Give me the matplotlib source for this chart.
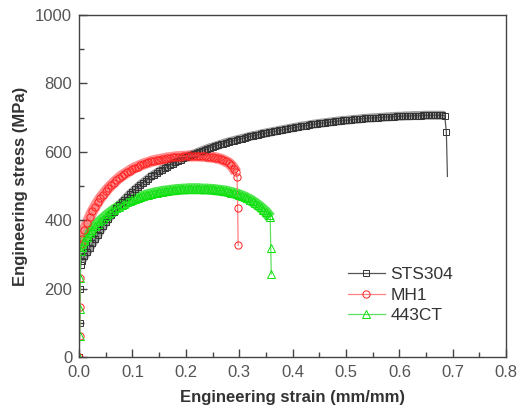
import matplotlib
matplotlib.use("Agg")
import matplotlib.pyplot as plt
from matplotlib.ticker import MultipleLocator, FormatStrFormatter

plt.rcParams['font.family'] = ['Liberation Sans', 'DejaVu Sans']

# ---- data ----
sts304_strain = [0.0, 0.001, 0.002, 0.003, 0.005, 0.01, 0.015, 0.02, 0.025, 0.03,
                 0.035, 0.04, 0.045, 0.05, 0.055, 0.06, 0.065, 0.07, 0.075, 0.08,
                 0.085, 0.09, 0.095, 0.10, 0.105, 0.11, 0.115, 0.12, 0.125, 0.13,
                 0.135, 0.14, 0.145, 0.15, 0.155, 0.16, 0.165, 0.17, 0.175, 0.18,
                 0.185, 0.19, 0.195, 0.20, 0.205, 0.21, 0.215, 0.22, 0.225, 0.23,
                 0.235, 0.24, 0.245, 0.25, 0.255, 0.26, 0.265, 0.27, 0.275, 0.28,
                 0.285, 0.29, 0.295, 0.30, 0.305, 0.31, 0.315, 0.32, 0.325, 0.33,
                 0.335, 0.34, 0.345, 0.35, 0.355, 0.36, 0.365, 0.37, 0.375, 0.38,
                 0.385, 0.39, 0.395, 0.40, 0.405, 0.41, 0.415, 0.42, 0.425, 0.43,
                 0.435, 0.44, 0.445, 0.45, 0.455, 0.46, 0.465, 0.47, 0.475, 0.48,
                 0.485, 0.49, 0.495, 0.50, 0.505, 0.51, 0.515, 0.52, 0.525, 0.53,
                 0.535, 0.54, 0.545, 0.55, 0.555, 0.56, 0.565, 0.57, 0.575, 0.58,
                 0.585, 0.59, 0.595, 0.60, 0.605, 0.61, 0.615, 0.62, 0.625, 0.63,
                 0.635, 0.64, 0.645, 0.65, 0.655, 0.66, 0.665, 0.67, 0.675, 0.68,
                 0.685, 0.688, 0.690]
sts304_stress = [0, 100, 200, 270, 282, 295, 307, 320, 332, 345,
                 357, 370, 383, 395, 405, 415, 425, 435, 444, 452,
                 460, 468, 476, 483, 490, 497, 504, 510, 516, 522,
                 528, 533, 538, 543, 548, 552, 557, 561, 565, 569,
                 573, 577, 581, 584, 588, 591, 594, 597, 600, 603,
                 606, 609, 612, 614, 617, 619, 622, 624, 627, 629,
                 631, 633, 635, 637, 639, 641, 643, 645, 647, 648,
                 650, 652, 654, 655, 657, 658, 660, 661, 663, 664,
                 666, 667, 669, 670, 672, 673, 675, 676, 677, 678,
                 680, 681, 682, 683, 684, 685, 686, 687, 688, 689,
                 690, 691, 692, 692, 693, 694, 695, 695, 696, 697,
                 698, 698, 699, 699, 700, 700, 701, 701, 702, 702,
                 703, 703, 704, 704, 704, 705, 705, 705, 706, 706,
                 706, 706, 707, 707, 707, 707, 707, 707, 707, 707,
                 706, 657, 528]

mh1_strain = [0.0, 0.001, 0.0015, 0.002, 0.003, 0.005, 0.01, 0.015, 0.02, 0.025,
              0.03, 0.035, 0.04, 0.045, 0.05, 0.055, 0.06, 0.065, 0.07, 0.075,
              0.08, 0.085, 0.09, 0.095, 0.10, 0.105, 0.11, 0.115, 0.12, 0.125,
              0.13, 0.135, 0.14, 0.145, 0.15, 0.155, 0.16, 0.165, 0.17, 0.175,
              0.18, 0.185, 0.19, 0.195, 0.20, 0.205, 0.21, 0.215, 0.22, 0.225,
              0.23, 0.235, 0.24, 0.245, 0.25, 0.255, 0.26, 0.265, 0.27, 0.275,
              0.28, 0.285, 0.29, 0.294, 0.296, 0.297, 0.298]
mh1_stress = [0, 60, 145, 230, 330, 345, 370, 392, 410, 426,
              440, 453, 465, 475, 485, 494, 502, 510, 517, 524,
              530, 535, 540, 545, 550, 554, 557, 561, 564, 567,
              569, 572, 574, 576, 577, 579, 580, 582, 583, 584,
              585, 586, 586, 587, 587, 588, 588, 588, 588, 588,
              587, 587, 586, 585, 584, 583, 581, 579, 576, 572,
              568, 561, 551, 540, 525, 437, 327]

ct443_strain = [0.0, 0.001, 0.0015, 0.002, 0.003, 0.005, 0.01, 0.015, 0.02, 0.025,
                0.03, 0.035, 0.04, 0.045, 0.05, 0.055, 0.06, 0.065, 0.07, 0.075,
                0.08, 0.085, 0.09, 0.095, 0.10, 0.105, 0.11, 0.115, 0.12, 0.125,
                0.13, 0.135, 0.14, 0.145, 0.15, 0.155, 0.16, 0.165, 0.17, 0.175,
                0.18, 0.185, 0.19, 0.195, 0.20, 0.205, 0.21, 0.215, 0.22, 0.225,
                0.23, 0.235, 0.24, 0.245, 0.25, 0.255, 0.26, 0.265, 0.27, 0.275,
                0.28, 0.285, 0.29, 0.295, 0.30, 0.305, 0.31, 0.315, 0.32, 0.325,
                0.33, 0.335, 0.34, 0.345, 0.35, 0.355, 0.358, 0.359, 0.360]
ct443_stress = [0, 60, 140, 230, 310, 322, 338, 350, 362, 372,
                382, 390, 398, 405, 412, 418, 424, 430, 435, 440,
                444, 448, 452, 456, 459, 462, 465, 468, 470, 473,
                475, 477, 479, 481, 482, 484, 485, 486, 487, 488,
                489, 490, 490, 491, 491, 492, 492, 492, 492, 492,
                491, 491, 491, 490, 490, 489, 488, 487, 486, 485,
                483, 481, 479, 477, 474, 471, 468, 464, 460, 455,
                450, 444, 438, 431, 424, 414, 408, 320, 243]

labels = ['STS304', 'MH1', '443CT']

fig = plt.figure(figsize=(5.17, 4.19), dpi=100)
ax = fig.add_axes([0.153, 0.148, 0.826, 0.816])

series = [
    (sts304_strain, sts304_stress, 's', 4.4, '#333333', '#555555', '#707070', 6.5, 0.7, (4, -2)),
    (mh1_strain, mh1_stress, 'o', 5.2, '#ff2020', '#ff8080', '#ff5050', 8.0, 0.65, (4, -3)),
    (ct443_strain, ct443_stress, '^', 5.8, '#10e010', '#60e060', '#20e020', 8.0, 0.8, (4, -2)),
]
for (x, y, mk, ms, mec, lc, bandc, bw, ba, (i0, i1)), lab in zip(series, labels):
    # dense overlapping data band (the plastic part of each curve)
    ax.plot(x[i0:i1], y[i0:i1], color=bandc, lw=bw, alpha=ba,
            solid_capstyle='butt', zorder=1)
    every = list(range(len(x) - 1)) if mk == 's' else None
    ax.plot(x, y, color=lc, lw=0.9, marker=mk, ms=ms, mfc='none', mec=mec,
            mew=0.7, markevery=every, label=lab, zorder=2)

ax.set_xlim(0, 0.8)
ax.set_ylim(0, 1000)
ax.xaxis.set_major_locator(MultipleLocator(0.1))
ax.xaxis.set_minor_locator(MultipleLocator(0.05))
ax.yaxis.set_major_locator(MultipleLocator(200))
ax.yaxis.set_minor_locator(MultipleLocator(100))
ax.tick_params(which='both', direction='in', top=False, right=False,
               color='#444444', labelcolor='#555555', labelsize=12)
ax.tick_params(which='major', length=6, width=1)
ax.tick_params(which='minor', length=3.5, width=1)
ax.tick_params(axis='x', pad=6)
ax.tick_params(axis='y', pad=5)
ax.xaxis.set_major_formatter(FormatStrFormatter('%.1f'))
for s in ax.spines.values():
    s.set_color('#444444')
    s.set_linewidth(1.0)

ax.set_xlabel('Engineering strain (mm/mm)', fontsize=12, fontweight='bold',
              color='#333333', labelpad=7)
ax.set_ylabel('Engineering stress (MPa)', fontsize=12, fontweight='bold',
              color='#333333', labelpad=5)

leg = ax.legend(loc='center left', bbox_to_anchor=(0.63, 0.181), frameon=False,
                fontsize=12.5, handlelength=2.1, handletextpad=0.35,
                labelspacing=0.3, borderpad=0, borderaxespad=0)
for t in leg.get_texts():
    t.set_color('#333333')

fig.savefig('out.png', dpi=100)
